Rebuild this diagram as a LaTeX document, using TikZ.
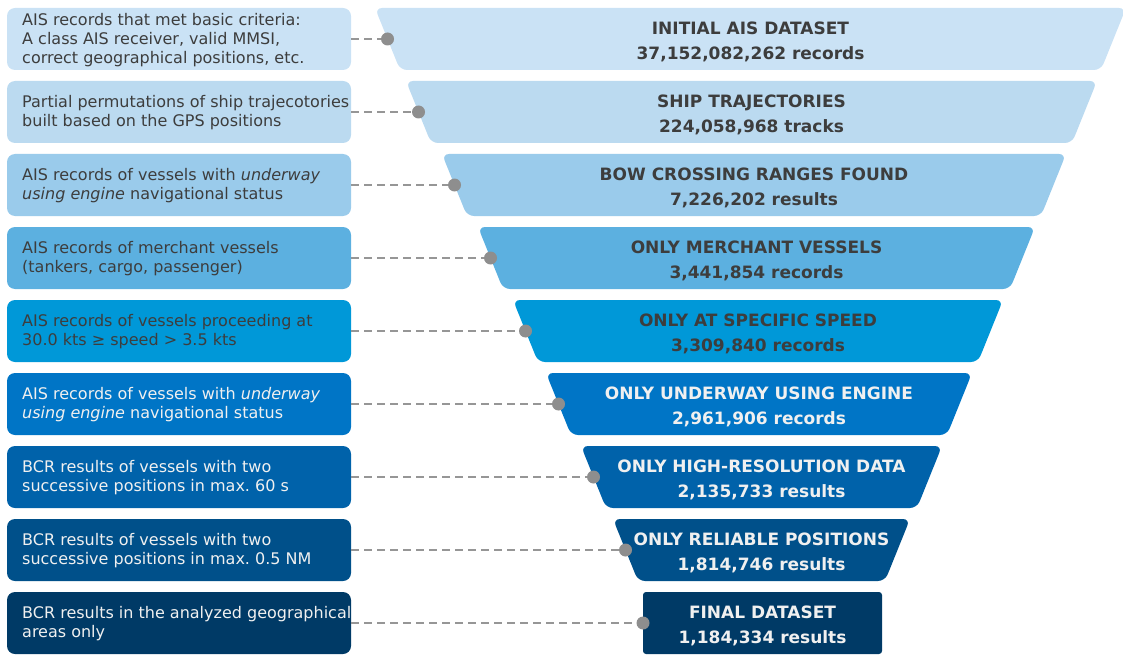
\documentclass[tikz,border=0pt]{standalone}
\usepackage{fontspec}
\setmainfont{DejaVu Sans}
\definecolor{c1}{HTML}{CAE2F5}
\definecolor{c2}{HTML}{BBDAF0}
\definecolor{c3}{HTML}{9ACBEB}
\definecolor{c4}{HTML}{5CB0E0}
\definecolor{c5}{HTML}{0098D8}
\definecolor{c6}{HTML}{0075C6}
\definecolor{c7}{HTML}{0062AA}
\definecolor{c8}{HTML}{00508A}
\definecolor{c9}{HTML}{003A66}
\definecolor{dark}{HTML}{3D3D3D}
\definecolor{light}{HTML}{F0F0F0}
\definecolor{dotgray}{HTML}{8E8E8E}
\definecolor{linegray}{HTML}{969696}
\tikzset{
  lbox/.style={rectangle, rounded corners=8pt, minimum width=344pt, minimum height=62pt, inner sep=0pt, draw=none},
  ltext/.style={align=left, inner sep=0pt, anchor=west, font=\fontsize{16}{19}\selectfont\frenchspacing},
  ftext/.style={align=center, inner sep=0pt, font=\fontsize{17}{25}\selectfont\bfseries},
  conn/.style={draw=linegray, line width=2.8pt, dash pattern=on 8pt off 5pt},
  dotc/.style={fill=dotgray}
}
\newcommand{\funnelrow}[9]{%
  \node[lbox, fill=#2] (box#1) at (179,#4+31) {};
  \node[ltext, text=#3] (t#1) at (22,#4+32) {#7};
  \fill[#2, rounded corners=7pt] (#5,#4) -- (#6,#4) -- (#6-25,#4+62) -- (#5+25,#4+62) -- cycle;
  \node[ftext, text=#3] (f#1) at ({(#5+#6)/2},#4+34) {#8\\#9};
  \coordinate (d#1) at (#5+12.5,#4+31);
  \draw[conn] (box#1.east) -- (d#1);
  \fill[dotc] (d#1) circle (6.5pt);
}
\begin{document}
\begin{tikzpicture}[x=1pt,y=-1pt]
\useasboundingbox (0,0) rectangle (1123,655);
\funnelrow{1}{c1}{dark}{8}{375}{1126}{AIS records that met basic criteria:\\A class AIS receiver, valid MMSI,\\correct geographical positions, etc.}{INITIAL AIS DATASET}{37,152,082,262 records}
\funnelrow{2}{c2}{dark}{81}{406}{1097}{Partial permutations of ship trajecotories\\built based on the GPS positions}{SHIP TRAJECTORIES}{224,058,968 tracks}
\funnelrow{3}{c3}{dark}{154}{442}{1066}{AIS records of vessels with \textit{underway}\\\textit{using engine} navigational status}{BOW CROSSING RANGES FOUND}{7,226,202 results}
\funnelrow{4}{c4}{dark}{227}{478}{1035}{AIS records of merchant vessels\\(tankers, cargo, passenger)}{ONLY MERCHANT VESSELS}{3,441,854 records}
\funnelrow{5}{c5}{dark}{300}{513}{1003}{AIS records of vessels proceeding at\\30.0 kts ≥ speed > 3.5 kts}{ONLY AT SPECIFIC SPEED}{3,309,840 records}
\funnelrow{6}{c6}{light}{373}{546}{972}{AIS records of vessels with \textit{underway}\\\textit{using engine} navigational status}{ONLY UNDERWAY USING ENGINE}{2,961,906 records}
\funnelrow{7}{c7}{light}{446}{581}{942}{BCR results of vessels with two\\successive positions in max. 60 s}{ONLY HIGH-RESOLUTION DATA}{2,135,733 results}
\funnelrow{8}{c8}{light}{519}{613}{910}{BCR results of vessels with two\\successive positions in max. 0.5 NM}{ONLY RELIABLE POSITIONS}{1,814,746 results}
% final row
\node[lbox, fill=c9] (box9) at (179,623) {};
\node[ltext, text=light] (t9) at (22,624) {BCR results in the analyzed geographical\\areas only};
\fill[c9, rounded corners=3pt] (643,592) rectangle (882,654);
\node[ftext, text=light] (f9) at (762.5,626) {FINAL DATASET\\1,184,334 results};
\coordinate (d9) at (643,623);
\draw[conn] (box9.east) -- (d9);
\fill[dotc] (d9) circle (6.5pt);
\end{tikzpicture}
\end{document}
